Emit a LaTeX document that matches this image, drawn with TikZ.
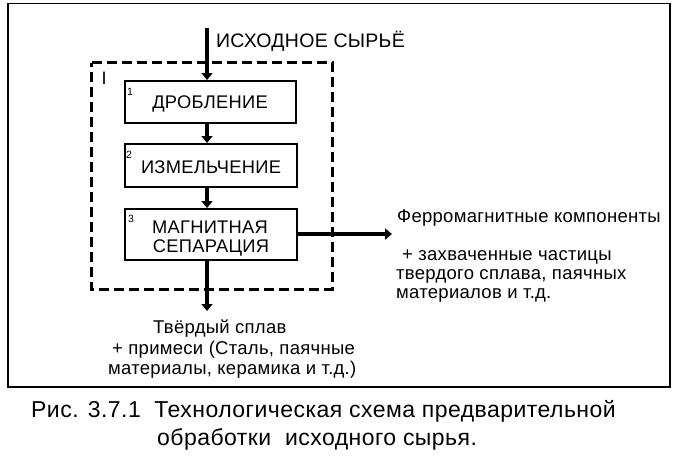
\documentclass[tikz,border=0pt]{standalone}
\usepackage{fontspec}
\setmainfont{Liberation Sans}
\newfontfamily\lblfont[LetterSpace=1.5]{Liberation Sans}
\newfontfamily\capfont[LetterSpace=2]{Liberation Sans}
\usetikzlibrary{arrows.meta}
\begin{document}
\begin{tikzpicture}[x=1pt,y=-1pt,
  frame/.style={draw=black,line width=1.2pt},
  group/.style={draw=black,line width=3pt,dash pattern=on 10pt off 5pt},
  stepbox/.style={draw=black,line width=2pt},
  flow/.style={line width=3.5pt,-{Triangle[length=7pt,width=11pt]}},
  boxtext/.style={font=\lblfont\fontsize{18.3}{19.5}\selectfont,align=center,inner sep=0pt},
  lbl/.style={font=\lblfont\fontsize{18.5}{19.5}\selectfont,inner sep=0pt},
  num/.style={font=\fontsize{10.5}{12}\selectfont,inner sep=0pt},
  captext/.style={font=\capfont\fontsize{23}{28}\selectfont,inner sep=0pt}]
\useasboundingbox (0,0) rectangle (676,461);
\fill[white] (0,0) rectangle (676,461);
\draw[frame] (8,3.5) rectangle (670,387);
\draw[group] (91.5,62.5) -- (332,62.5) -- (332,289) -- (91.5,289) -- cycle;
\node[stepbox,minimum width=171pt,minimum height=42pt,anchor=north west] (b1) at (124,80) {};
\node[stepbox,minimum width=172pt,minimum height=43pt,anchor=north west] (b2) at (124,143) {};
\node[stepbox,minimum width=172pt,minimum height=51pt,anchor=north west] (b3) at (124,208) {};
\node[boxtext,anchor=base] (t1) at (210,108) {ДРОБЛЕНИЕ};
\node[boxtext,anchor=base] (t2) at (211,173) {ИЗМЕЛЬЧЕНИЕ};
\node[boxtext,anchor=base] (t3a) at (210,233) {МАГНИТНАЯ};
\node[boxtext,anchor=base] (t3b) at (211,252) {СЕПАРАЦИЯ};
\node[num,anchor=base] (n1) at (130,95) {1};
\node[num,anchor=base] (n2) at (129,158) {2};
\node[num,anchor=base] (n3) at (131,222) {3};
\node[font=\fontsize{18}{18}\selectfont,inner sep=0pt,anchor=base] (g1) at (104,84) {I};
\coordinate (src) at (207,28);
\coordinate (outb) at (207,311);
\coordinate (outr) at (392,234);
\draw[flow] (src) -- (b1.north -| src);
\draw[flow] (b1.south -| src) -- (b2.north -| src);
\draw[flow] (b2.south -| src) -- (b3.north -| src);
\draw[flow] (b3.south -| src) -- (outb);
\draw[flow] (b3.east |- outr) -- (outr);
\node[lbl,anchor=base west,font=\lblfont\fontsize{19.5}{20}\selectfont] (in) at (216,47) {ИСХОДНОЕ СЫРЬЁ};
\node[lbl,anchor=base west] (fm) at (397,222) {Ферромагнитные компоненты};
\node[lbl,anchor=base west] (fm2) at (402,260) {+ захваченные частицы};
\node[lbl,anchor=base west] (fm3) at (396,279) {твердого сплава, паячных};
\node[lbl,anchor=base west] (fm4) at (396,298) {материалов и т.д.};
\node[lbl,anchor=base west] (hs1) at (153,333) {Твёрдый сплав};
\node[lbl,anchor=base west] (hs2) at (112,354) {+ примеси (Сталь, паячные};
\node[lbl,anchor=base west] (hs3) at (108,374) {материалы, керамика и т.д.)};
\node[captext,anchor=base west] (c1) at (31,417) {Рис. 3.7.1\ \ Технологическая схема предварительной};
\node[captext,anchor=base west] (c2) at (157,445) {обработки\ \ исходного сырья.};
\end{tikzpicture}
\end{document}
